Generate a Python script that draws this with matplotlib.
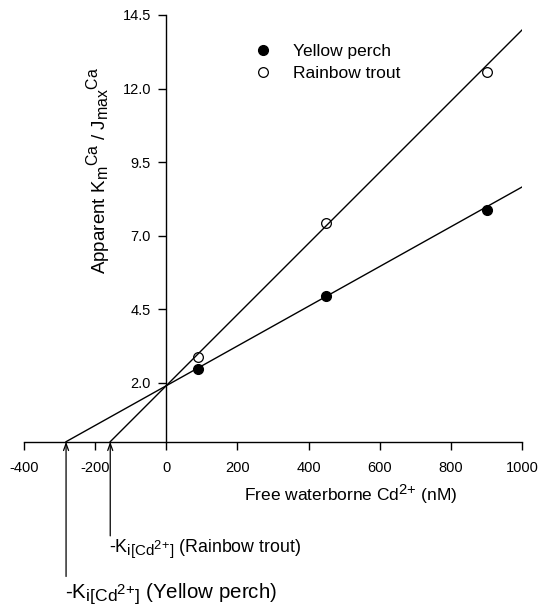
import numpy as np
import matplotlib
matplotlib.use("Agg")
import matplotlib.pyplot as plt
from matplotlib.lines import Line2D
try:
    import matplotlib._mathtext as _mt
    _mt.SHRINK_FACTOR = 0.85
except Exception:
    pass

plt.rcParams['font.family'] = ['Liberation Sans', 'DejaVu Sans']
plt.rcParams['mathtext.default'] = 'regular'

# ---- data ----
cd_conc = [90, 450, 900]                      # free waterborne Cd2+ (nM)
perch_vals = [2.47, 4.96, 7.86]               # Yellow perch
trout_vals = [2.89, 7.44, 12.57]              # Rainbow trout
perch_fit = (1.90, 0.00676)                   # intercept, slope
trout_fit = (1.90, 0.0121)                    # intercept, slope
x_ticks = [-400, -200, 0, 200, 400, 600, 800, 1000]
y_ticks = [2.0, 4.5, 7.0, 9.5, 12.0, 14.5]
x_max = 1000

fig = plt.figure(figsize=(5.41, 6.06), dpi=100)
ax = fig.add_axes([23.7/541, 1-441.7/606, 498.6/541, 426.7/606])
ax.set_xlim(-400, 1000)
ax.set_ylim(0, 14.5)

for (b, m) in (perch_fit, trout_fit):
    x0 = -b / m
    xs = np.array([x0, x_max])
    ax.plot(xs, b + m * xs, color='black', lw=1.0, zorder=2)

ax.plot(cd_conc, perch_vals, 'o', ms=7, mfc='black', mec='black', zorder=3)
ax.plot(cd_conc, trout_vals, 'o', ms=7, mfc='none', mec='black', mew=0.9, zorder=3)

ax.spines['top'].set_visible(False)
ax.spines['right'].set_visible(False)
ax.spines['left'].set_position(('data', 0))
for s in ('left', 'bottom'):
    ax.spines[s].set_linewidth(1.0)

ax.set_xticks(x_ticks)
ax.set_xticklabels([str(t) for t in x_ticks])
ax.set_yticks(y_ticks)
ax.set_yticklabels([f"{t:.1f}" for t in y_ticks])
ax.tick_params(axis='x', direction='out', length=6, width=1.0, pad=8, labelsize=10.5)
ax.tick_params(axis='y', direction='out', length=6, width=1.0, pad=5, labelsize=10.5)

ax.set_xlabel(r"Free waterborne Cd$^{2{+}}$ (nM)", fontsize=12.5)
ax.xaxis.set_label_coords(0.656, -0.096)
ax.set_ylabel(r"Apparent K$_m$$^{Ca}$ / J$_{max}$$^{Ca}$", fontsize=13.5)
ax.yaxis.set_label_coords(0.177, 0.636)

handles = [Line2D([], [], ls='none', marker='o', ms=7, mfc='black', mec='black'),
           Line2D([], [], ls='none', marker='o', ms=7, mfc='none', mec='black', mew=0.9)]
ax.legend(handles, ['Yellow perch', 'Rainbow trout'], frameon=False, fontsize=12.5,
          loc='upper left', bbox_to_anchor=(255/541, 1-44/606), bbox_transform=fig.transFigure,
          borderpad=0, borderaxespad=0, handlelength=0.95, handletextpad=1.25, labelspacing=0.4)

# Ki annotations
labels = ['Yellow perch', 'Rainbow trout']
text_y = [-5.15, -3.62]
arrow_y = [-4.58, -3.2]
text_size = [14.8, 12.8]
for (b, m), name, ty, ay, fs in zip((perch_fit, trout_fit), labels, text_y, arrow_y, text_size):
    x0 = -b / m
    ax.annotate('', xy=(x0, 0), xytext=(x0, ay), annotation_clip=False,
                arrowprops=dict(arrowstyle='->,head_length=0.5,head_width=0.18', lw=0.9,
                                color='black', mutation_scale=10, shrinkA=0, shrinkB=0))
    ax.text(x0 - 3, ty, r"-K$_{i[Cd^{2{+}}]}$ (" + name + ")", ha='left', va='center',
            fontsize=fs, clip_on=False)

fig.savefig('out.png', dpi=100)
